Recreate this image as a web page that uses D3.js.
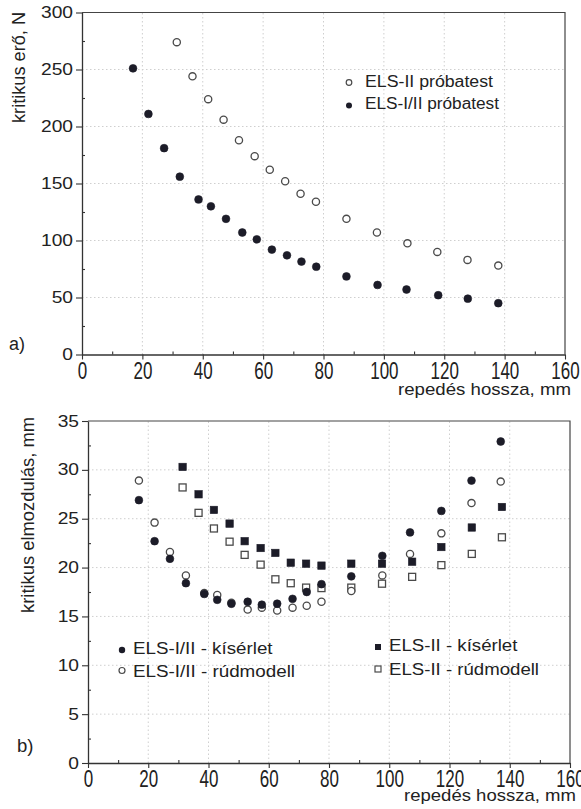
<!DOCTYPE html>
<html>
<head>
<meta charset="utf-8">
<script src="https://cdn.jsdelivr.net/npm/d3@7"></script>
<style>
  body { margin: 0; background: #fff; }
  svg { display: block; font-family: "Liberation Sans", Arial, sans-serif; }
</style>
</head>
<body>
<div id="chart"></div>
<script>
// width and height of the page
var width = 581;
var height = 809;

// --- a) kritikus erő ---
var elsII_x = [31.4, 36.6, 41.8, 46.9, 52.0, 57.2, 62.2, 67.3, 72.4, 77.5, 87.6, 97.7, 107.8, 117.7, 127.7, 137.9];
var elsII_F = [274, 244, 224, 206, 188, 174, 162, 152, 141, 134, 119, 107, 97.5, 90, 83, 78];
var elsI_x = [16.9, 22.0, 27.2, 32.4, 38.6, 42.7, 47.7, 53.1, 57.9, 62.9, 67.9, 72.7, 77.6, 87.6, 97.9, 107.5, 118.0, 127.8, 137.9];
var elsI_F = [251, 211, 181, 156, 136, 130, 119, 107, 101, 92, 87, 81.5, 77, 68.5, 61, 57, 52, 49, 45];

// --- b) kritikus elmozdulás ---
var circ_x = [16.9, 22.1, 27.2, 32.5, 38.6, 42.9, 47.6, 53.0, 57.7, 62.8, 67.9, 72.6, 77.5, 87.4, 97.7, 106.9, 117.3, 127.3, 137.0];
var kiserletI = [26.9, 22.7, 20.9, 18.4, 17.3, 16.7, 16.3, 16.5, 16.2, 16.3, 16.8, 17.5, 18.3, 19.1, 21.2, 23.6, 25.8, 28.9, 32.9];
var rudI = [28.9, 24.6, 21.6, 19.2, 17.4, 17.2, 16.4, 15.7, 15.9, 15.6, 15.9, 16.1, 16.5, 17.6, 19.2, 21.4, 23.5, 26.6, 28.8];
var sq_x = [31.4, 36.7, 41.8, 47.0, 52.0, 57.3, 62.2, 67.3, 72.4, 77.5, 87.4, 97.6, 107.6, 117.3, 127.4, 137.4];
var kiserletII = [30.3, 27.5, 25.9, 24.5, 22.7, 22.0, 21.5, 20.5, 20.4, 20.2, 20.4, 20.4, 20.6, 22.1, 24.1, 26.2];
var rudII = [28.2, 25.6, 24.0, 22.65, 21.3, 20.3, 18.8, 18.4, 17.95, 17.9, 17.95, 18.35, 19.05, 20.25, 21.4, 23.1];

var xTicks = [0, 20, 40, 60, 80, 100, 120, 140, 160];
var xMinor = [10, 30, 50, 70, 90, 110, 130, 150];
var yTicksA = [0, 50, 100, 150, 200, 250, 300];
var yMinorA = [25, 75, 125, 175, 225, 275];
var yTicksB = [0, 5, 10, 15, 20, 25, 30, 35];
var yMinorB = [2.5, 7.5, 12.5, 17.5, 22.5, 27.5, 32.5];

var dark = "#1c1c28";
var openStroke = "#4a4a4a";

const svg = d3.select("#chart")
  .append("svg")
  .attr("width", width)
  .attr("height", height);

svg.append("rect").attr("width", width).attr("height", height).attr("fill", "#fff");

function zip(xs, ys) {
  return xs.map((v, i) => [v, ys[i]]);
}

// stretched text, the scan is a bit wider than the font
function label(txt, x, y, size, len, anchor) {
  return svg.append("text")
    .attr("x", x).attr("y", y)
    .attr("font-size", size)
    .attr("fill", "#222")
    .attr("text-anchor", anchor || "start")
    .attr("textLength", len)
    .attr("lengthAdjust", "spacingAndGlyphs")
    .text(txt);
}

function drawFrame(x, y, yTicks, yMinor) {
  const [x0, x1] = x.range();
  const [yb, yt] = y.range();

  // dotted grid
  svg.append("g").selectAll("line")
    .data(xTicks.slice(1, -1)).enter().append("line")
    .attr("x1", d => x(d)).attr("x2", d => x(d))
    .attr("y1", yb).attr("y2", yt)
    .attr("stroke", "#cfcfcf").attr("stroke-width", 1)
    .attr("stroke-dasharray", "1.5,2.5");
  svg.append("g").selectAll("line")
    .data(yTicks.slice(1, -1)).enter().append("line")
    .attr("x1", x0).attr("x2", x1)
    .attr("y1", d => y(d)).attr("y2", d => y(d))
    .attr("stroke", "#cfcfcf").attr("stroke-width", 1)
    .attr("stroke-dasharray", "1.5,2.5");

  // top and right border
  svg.append("path")
    .attr("d", `M${x0},${yt}H${x1}V${yb}`)
    .attr("fill", "none").attr("stroke", "#444").attr("stroke-width", 1.2);

  // x axis
  const gx = svg.append("g").attr("transform", `translate(0,${yb})`)
    .call(d3.axisBottom(x).tickValues(xTicks).tickSize(5).tickSizeOuter(0));
  svg.append("g").attr("transform", `translate(0,${yb})`)
    .call(d3.axisBottom(x).tickValues(xMinor).tickSize(-3).tickSizeOuter(0).tickFormat(""))
    .select(".domain").remove();
  gx.attr("font-size", 17).attr("font-family", null);
  gx.selectAll(".tick text")
    .attr("y", 0).attr("dy", "0.71em")
    .attr("fill", "#222")
    .attr("transform", "translate(0,7) scale(1,1.42)");

  // y axis
  const gy = svg.append("g").attr("transform", `translate(${x0},0)`)
    .call(d3.axisLeft(y).tickValues(yTicks).tickSize(6).tickSizeOuter(0));
  svg.append("g").attr("transform", `translate(${x0},0)`)
    .call(d3.axisLeft(y).tickValues(yMinor).tickSize(-3).tickSizeOuter(0).tickFormat(""))
    .select(".domain").remove();
  gy.attr("font-size", 16).attr("font-family", null);
  gy.selectAll(".tick text")
    .attr("x", -9 / 1.2)
    .attr("fill", "#222")
    .attr("transform", "scale(1.2,1)");

  svg.selectAll(".domain").attr("stroke", "#333").attr("stroke-width", 1.3);
  svg.selectAll(".tick line").attr("stroke", "#333").attr("stroke-width", 1.1);
}

function circles(pts, x, y, filled, r) {
  svg.append("g").selectAll("circle")
    .data(pts).enter().append("circle")
    .attr("cx", d => x(d[0]))
    .attr("cy", d => y(d[1]))
    .attr("r", r)
    .attr("fill", filled ? dark : "#fff")
    .attr("stroke", filled ? dark : openStroke)
    .attr("stroke-width", filled ? 0.6 : 1.3);
}

function squares(pts, x, y, filled, s) {
  svg.append("g").selectAll("rect")
    .data(pts).enter().append("rect")
    .attr("x", d => x(d[0]) - s / 2)
    .attr("y", d => y(d[1]) - s / 2)
    .attr("width", s).attr("height", s)
    .attr("fill", filled ? dark : "#fff")
    .attr("stroke", filled ? dark : openStroke)
    .attr("stroke-width", filled ? 0.6 : 1.3);
}

// ---------- chart a) ----------
const xA = d3.scaleLinear().domain([0, 160]).range([82, 565]);
const yA = d3.scaleLinear().domain([0, 300]).range([354.5, 12.5]);
drawFrame(xA, yA, yTicksA, yMinorA);

circles(zip(elsII_x, elsII_F), xA, yA, false, 3.6);
circles(zip(elsI_x, elsI_F), xA, yA, true, 3.9);

// legend a)
svg.append("circle").attr("cx", 349).attr("cy", 82.5).attr("r", 2.8)
  .attr("fill", "#fff").attr("stroke", openStroke).attr("stroke-width", 1.2);
svg.append("circle").attr("cx", 349).attr("cy", 105.5).attr("r", 3)
  .attr("fill", dark);
label("ELS-II próbatest", 365, 86.5, 16, 128);
label("ELS-I/II próbatest", 365, 109, 16, 134);

label("kritikus erő, N", 0, 0, 18, 111, "end")
  .attr("x", null).attr("y", null)
  .attr("transform", "translate(25,12) rotate(-90)");
label("repedés hossza, mm", 571, 395, 17, 173, "end");
label("a)", 9, 350, 18, 16);

// ---------- chart b) ----------
const xB = d3.scaleLinear().domain([0, 160]).range([88, 570]);
const yB = d3.scaleLinear().domain([0, 35]).range([763, 421]);
drawFrame(xB, yB, yTicksB, yMinorB);

squares(zip(sq_x, rudII), xB, yB, false, 7);
squares(zip(sq_x, kiserletII), xB, yB, true, 7.4);
circles(zip(circ_x, rudI), xB, yB, false, 3.6);
circles(zip(circ_x, kiserletI), xB, yB, true, 3.9);

// legend b)
svg.append("circle").attr("cx", 122).attr("cy", 650).attr("r", 3.2).attr("fill", dark);
svg.append("circle").attr("cx", 122).attr("cy", 670.5).attr("r", 3)
  .attr("fill", "#fff").attr("stroke", openStroke).attr("stroke-width", 1.2);
label("ELS-I/II - kísérlet", 133, 654, 16, 139.5);
label("ELS-I/II - rúdmodell", 133, 677.3, 16, 162);
svg.append("rect").attr("x", 375).attr("y", 644).attr("width", 6).attr("height", 6).attr("fill", dark);
svg.append("rect").attr("x", 375).attr("y", 666).attr("width", 6).attr("height", 6)
  .attr("fill", "#fff").attr("stroke", openStroke).attr("stroke-width", 1.2);
label("ELS-II - kísérlet", 389, 650.7, 16, 128.4);
label("ELS-II - rúdmodell", 389, 675, 16, 150);

label("kritikus elmozdulás, mm", 0, 0, 18, 196, "end")
  .attr("x", null).attr("y", null)
  .attr("transform", "translate(33.5,417) rotate(-90)");
label("repedés hossza, mm", 576, 801, 17, 172, "end");
label("b)", 17, 752, 18, 16.5);
</script>
</body>
</html>
